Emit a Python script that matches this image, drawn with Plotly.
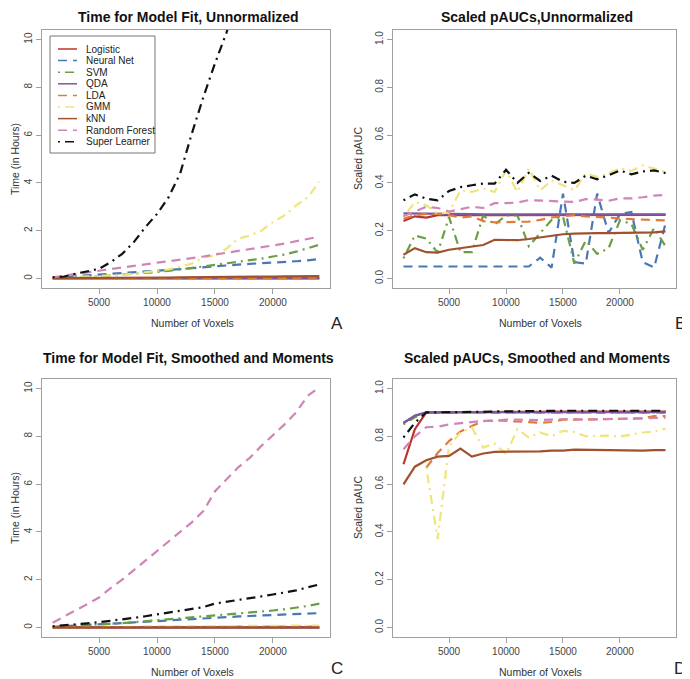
import plotly.graph_objects as go
from plotly.subplots import make_subplots

# the page puts the plot 8px in from the top-left corner, so the figure is
# sized to the window minus that and all pixel positions below are window pixels
OFF = 8
W, H = 690 - OFF, 679 - OFF

# data
voxels = [1000, 2000, 3000, 4000, 5000, 6000, 7000, 8000, 9000, 10000, 11000, 12000,
          13000, 14000, 15000, 16000, 17000, 18000, 19000, 20000, 21000, 22000, 23000, 24000]

methods = ["Logistic", "Neural Net", "SVM", "QDA", "LDA", "GMM", "kNN", "Random Forest", "Super Learner"]
colors = ["#B8352E", "#4A78B5", "#6A9F45", "#7E57A0", "#E07B39", "#EFE57A", "#A0522D", "#CF86B6", "#111111"]
dashes = ["solid", "9px,6px", "2px,5px,9px,5px", "solid", "9px,6px", "2px,5px,9px,5px", "solid", "9px,6px", "2px,5px,9px,5px"]

# panel A: time, unnormalized
time_unnorm = {
    "Logistic": [0.00, 0.00, 0.00, 0.00, 0.00, 0.00, 0.00, 0.00, 0.00, 0.00, 0.00, 0.00,
                 0.00, 0.00, 0.00, 0.00, 0.00, 0.00, 0.00, 0.00, 0.00, 0.00, 0.00, 0.00],
    "Neural Net": [0.03, 0.06, 0.10, 0.14, 0.17, 0.20, 0.23, 0.26, 0.29, 0.33, 0.36, 0.39,
                   0.43, 0.47, 0.53, 0.55, 0.58, 0.61, 0.63, 0.66, 0.69, 0.72, 0.76, 0.81],
    "SVM": [0.02, 0.03, 0.05, 0.07, 0.10, 0.13, 0.16, 0.19, 0.22, 0.27, 0.32, 0.37,
            0.43, 0.50, 0.57, 0.63, 0.70, 0.76, 0.83, 0.92, 1.00, 1.12, 1.28, 1.41],
    "QDA": [0.01, 0.01, 0.01, 0.01, 0.01, 0.01, 0.01, 0.01, 0.01, 0.01, 0.01, 0.01,
            0.01, 0.01, 0.01, 0.01, 0.01, 0.01, 0.01, 0.01, 0.01, 0.01, 0.01, 0.01],
    "LDA": [0.01, 0.01, 0.01, 0.01, 0.02, 0.02, 0.02, 0.02, 0.02, 0.02, 0.02, 0.02,
            0.02, 0.02, 0.02, 0.02, 0.03, 0.03, 0.03, 0.03, 0.03, 0.03, 0.03, 0.03],
    "GMM": [0.02, 0.04, 0.06, 0.08, 0.10, 0.12, 0.15, 0.20, 0.25, 0.30, 0.38, 0.50,
            0.62, 0.88, 0.96, 1.25, 1.66, 1.80, 2.00, 2.36, 2.64, 3.06, 3.40, 4.04],
    "kNN": [0.01, 0.01, 0.01, 0.02, 0.02, 0.02, 0.03, 0.03, 0.03, 0.04, 0.04, 0.05,
            0.05, 0.05, 0.06, 0.06, 0.07, 0.07, 0.08, 0.08, 0.09, 0.09, 0.10, 0.10],
    "Random Forest": [0.05, 0.12, 0.20, 0.27, 0.34, 0.40, 0.47, 0.53, 0.60, 0.66, 0.72, 0.78,
                      0.85, 0.92, 1.00, 1.07, 1.14, 1.22, 1.30, 1.38, 1.46, 1.55, 1.65, 1.75],
    "Super Learner": [0.05, 0.08, 0.20, 0.30, 0.40, 0.68, 1.03, 1.52, 2.15, 2.70, 3.40, 4.40,
                      6.06, 7.60, 9.00, 10.30, 11.80, 13.50, 15.30, 17.40, 19.60, 22.00, 24.70, 27.50],
}

# panel B: scaled pAUC, unnormalized
pauc_unnorm = {
    "Logistic": [0.240, 0.260, 0.255, 0.265, 0.265, 0.265, 0.265, 0.265, 0.266, 0.266, 0.266, 0.266,
                 0.266, 0.266, 0.266, 0.266, 0.266, 0.266, 0.266, 0.266, 0.266, 0.266, 0.266, 0.266],
    "Neural Net": [0.050, 0.050, 0.050, 0.050, 0.050, 0.050, 0.050, 0.052, 0.050, 0.050, 0.050, 0.050,
                   0.087, 0.045, 0.355, 0.068, 0.062, 0.355, 0.190, 0.270, 0.278, 0.068, 0.046, 0.230],
    "SVM": [0.084, 0.180, 0.167, 0.108, 0.257, 0.110, 0.110, 0.264, 0.225, 0.264, 0.264, 0.135,
            0.190, 0.245, 0.260, 0.062, 0.159, 0.103, 0.126, 0.243, 0.229, 0.120, 0.211, 0.135],
    "QDA": [0.272, 0.272, 0.271, 0.270, 0.270, 0.269, 0.269, 0.268, 0.268, 0.268, 0.268, 0.268,
            0.268, 0.268, 0.268, 0.268, 0.268, 0.268, 0.268, 0.268, 0.268, 0.268, 0.268, 0.268],
    "LDA": [0.250, 0.265, 0.270, 0.270, 0.265, 0.255, 0.260, 0.240, 0.235, 0.235, 0.235, 0.238,
            0.245, 0.255, 0.260, 0.265, 0.260, 0.258, 0.255, 0.250, 0.248, 0.245, 0.242, 0.243],
    "GMM": [0.257, 0.320, 0.306, 0.272, 0.275, 0.369, 0.362, 0.376, 0.362, 0.452, 0.362, 0.460,
            0.369, 0.410, 0.390, 0.369, 0.440, 0.425, 0.440, 0.462, 0.450, 0.473, 0.460, 0.445],
    "kNN": [0.099, 0.127, 0.110, 0.108, 0.120, 0.127, 0.132, 0.140, 0.162, 0.160, 0.160, 0.165,
            0.172, 0.180, 0.185, 0.188, 0.190, 0.190, 0.190, 0.190, 0.192, 0.190, 0.193, 0.197],
    "Random Forest": [0.260, 0.280, 0.300, 0.295, 0.280, 0.290, 0.300, 0.295, 0.315, 0.315, 0.318, 0.328,
                      0.325, 0.325, 0.322, 0.320, 0.332, 0.330, 0.325, 0.335, 0.335, 0.340, 0.347, 0.350],
    "Super Learner": [0.327, 0.352, 0.334, 0.327, 0.366, 0.382, 0.390, 0.397, 0.397, 0.455, 0.400, 0.442,
                      0.408, 0.430, 0.405, 0.400, 0.430, 0.415, 0.432, 0.452, 0.436, 0.448, 0.452, 0.441],
}

# panel C: time, smoothed and moments
time_smooth = {
    "Logistic": [0.00, 0.00, 0.00, 0.00, 0.00, 0.00, 0.00, 0.00, 0.00, 0.00, 0.00, 0.00,
                 0.00, 0.00, 0.00, 0.00, 0.00, 0.00, 0.00, 0.00, 0.00, 0.00, 0.00, 0.00],
    "Neural Net": [0.03, 0.05, 0.08, 0.10, 0.12, 0.15, 0.18, 0.21, 0.24, 0.27, 0.30, 0.33,
                   0.36, 0.39, 0.42, 0.44, 0.46, 0.48, 0.50, 0.52, 0.54, 0.56, 0.58, 0.60],
    "SVM": [0.02, 0.04, 0.06, 0.09, 0.12, 0.15, 0.18, 0.22, 0.26, 0.30, 0.33, 0.37,
            0.41, 0.45, 0.49, 0.53, 0.57, 0.61, 0.66, 0.71, 0.76, 0.82, 0.90, 1.00],
    "QDA": [0.00, 0.00, 0.00, 0.00, 0.00, 0.00, 0.00, 0.00, 0.00, 0.00, 0.00, 0.00,
            0.00, 0.00, 0.00, 0.00, 0.00, 0.00, 0.00, 0.00, 0.00, 0.00, 0.00, 0.00],
    "LDA": [0.01, 0.01, 0.01, 0.01, 0.01, 0.02, 0.02, 0.02, 0.02, 0.02, 0.02, 0.02,
            0.02, 0.03, 0.03, 0.03, 0.03, 0.03, 0.03, 0.04, 0.04, 0.04, 0.04, 0.04],
    "GMM": [0.01, 0.01, 0.02, 0.02, 0.02, 0.03, 0.03, 0.03, 0.03, 0.04, 0.04, 0.04,
            0.04, 0.05, 0.05, 0.05, 0.05, 0.06, 0.06, 0.06, 0.07, 0.07, 0.08, 0.08],
    "kNN": [0.00, 0.00, 0.00, 0.00, 0.00, 0.00, 0.00, 0.00, 0.00, 0.00, 0.00, 0.00,
            0.00, 0.00, 0.00, 0.00, 0.00, 0.00, 0.00, 0.00, 0.00, 0.00, 0.00, 0.00],
    "Random Forest": [0.20, 0.45, 0.72, 0.98, 1.25, 1.65, 2.00, 2.40, 2.80, 3.20, 3.60, 4.00,
                      4.40, 4.87, 5.70, 6.20, 6.70, 7.10, 7.60, 8.05, 8.50, 9.00, 9.70, 10.05],
    "Super Learner": [0.05, 0.08, 0.12, 0.17, 0.22, 0.27, 0.33, 0.40, 0.47, 0.55, 0.62, 0.70,
                      0.77, 0.85, 1.00, 1.07, 1.13, 1.20, 1.30, 1.38, 1.45, 1.55, 1.68, 1.80],
}

# panel D: scaled pAUC, smoothed and moments
pauc_smooth = {
    "Logistic": [0.683, 0.830, 0.900, 0.900, 0.900, 0.901, 0.901, 0.902, 0.902, 0.903, 0.903, 0.903,
                 0.903, 0.904, 0.904, 0.904, 0.904, 0.904, 0.904, 0.904, 0.904, 0.904, 0.904, 0.904],
    "Neural Net": [0.857, 0.885, 0.900, 0.900, 0.900, 0.900, 0.900, 0.900, 0.900, 0.900, 0.900, 0.900,
                   0.900, 0.900, 0.900, 0.900, 0.900, 0.900, 0.900, 0.900, 0.900, 0.900, 0.900, 0.900],
    "SVM": [0.850, 0.880, 0.900, 0.900, 0.900, 0.900, 0.900, 0.900, 0.900, 0.900, 0.900, 0.900,
            0.900, 0.900, 0.900, 0.900, 0.900, 0.900, 0.900, 0.900, 0.900, 0.900, 0.900, 0.900],
    "QDA": [0.855, 0.887, 0.900, 0.901, 0.901, 0.901, 0.901, 0.901, 0.901, 0.901, 0.901, 0.901,
            0.901, 0.901, 0.901, 0.901, 0.901, 0.901, 0.901, 0.901, 0.901, 0.901, 0.901, 0.901],
    "LDA": [None, None, 0.669, 0.730, 0.780, 0.820, 0.843, 0.864, 0.867, 0.865, 0.860, 0.858,
            0.857, 0.860, 0.870, 0.870, 0.870, 0.872, 0.872, 0.873, 0.874, 0.875, 0.885, 0.885],
    "GMM": [None, None, 0.670, 0.370, 0.760, 0.816, 0.837, 0.753, 0.770, 0.725, 0.830, 0.795,
            0.816, 0.800, 0.823, 0.818, 0.800, 0.803, 0.803, 0.799, 0.807, 0.816, 0.820, 0.832],
    "kNN": [0.599, 0.673, 0.700, 0.715, 0.718, 0.749, 0.715, 0.728, 0.735, 0.735, 0.738, 0.738,
            0.737, 0.740, 0.740, 0.744, 0.743, 0.742, 0.743, 0.742, 0.740, 0.740, 0.742, 0.742],
    "Random Forest": [0.746, 0.800, 0.838, 0.840, 0.850, 0.855, 0.857, 0.865, 0.865, 0.870, 0.870, 0.868,
                      0.868, 0.870, 0.872, 0.872, 0.870, 0.872, 0.872, 0.875, 0.875, 0.875, 0.877, 0.878],
    "Super Learner": [0.795, 0.857, 0.900, 0.900, 0.900, 0.902, 0.903, 0.903, 0.904, 0.905, 0.905, 0.906,
                      0.906, 0.906, 0.907, 0.907, 0.907, 0.907, 0.907, 0.907, 0.907, 0.907, 0.907, 0.907],
}

panels = [
    (time_unnorm, 1, 1, "Time for Model Fit, Unnormalized", "Time (in Hours)", "A"),
    (pauc_unnorm, 1, 2, "Scaled pAUCs,Unnormalized", "Scaled pAUC", "B"),
    (time_smooth, 2, 1, "Time for Model Fit, Smoothed and Moments", "Time (in Hours)", "C"),
    (pauc_smooth, 2, 2, "Scaled pAUCs, Smoothed and Moments", "Scaled pAUC", "D"),
]

# frame boxes in window pixels: left, right, top, bottom
cols_px = {1: (42, 330), 2: (393, 676)}
rows_px = {1: (30, 288), 2: (379, 637)}
ytitle_x = {1: 15, 2: 358}
letter_x = {1: 337, 2: 680}
letter_y = {1: 323, 2: 668}

FONT = "Liberation Sans, Arial, Helvetica, sans-serif"
GRAY = "#a0a0a0"


def px(x, y):
    return (x - OFF) / W, 1 - (y - OFF) / H


fig = make_subplots(rows=2, cols=2)

for data, r, c, title, ytitle, letter in panels:
    for name, col, dash in zip(methods, colors, dashes):
        fig.add_trace(go.Scatter(
            x=voxels, y=data[name], mode="lines", name=name,
            line=dict(color=col, width=2.2, dash=dash),
            showlegend=False, connectgaps=False,
        ), row=r, col=c)

annotations = []
for data, r, c, title, ytitle, letter in panels:
    l, rt = cols_px[c]
    t, b = rows_px[r]
    is_time = "Time" in ytitle
    dl, dt = px(l, t)
    dr, db = px(rt, b)
    fig.update_xaxes(
        domain=[dl, dr], range=[80, 24920],
        tickvals=[5000, 10000, 15000, 20000], tickformat="d",
        showline=True, mirror=True, linecolor=GRAY, linewidth=1.3,
        ticks="outside", ticklen=5, tickcolor=GRAY, showgrid=False, zeroline=False,
        tickfont=dict(family=FONT, size=10, color="#444"),
        row=r, col=c)
    fig.update_yaxes(
        domain=[db, dt],
        range=[-0.4, 10.4] if is_time else [-0.04, 1.04],
        tickvals=[0, 2, 4, 6, 8, 10] if is_time else [0, 0.2, 0.4, 0.6, 0.8, 1.0],
        tickformat="d" if is_time else ".1f",
        tickangle=-90,
        showline=True, mirror=True, linecolor=GRAY, linewidth=1.3,
        ticks="outside", ticklen=5, tickcolor=GRAY, showgrid=False, zeroline=False,
        tickfont=dict(family=FONT, size=10, color="#444"),
        row=r, col=c)

    cx = (l + rt) / 2
    tx, _ = px(cx + 2, 0)
    if r == 1:
        # top row titles sit right at the top of the page
        annotations.append(dict(text="<b>%s</b>" % title, x=tx, y=1, xref="paper", yref="paper",
                                showarrow=False, xanchor="center", yanchor="top", borderpad=0,
                                font=dict(family=FONT, size=14, color="#111")))
    else:
        _, ty = px(0, 358)
        annotations.append(dict(text="<b>%s</b>" % title, x=tx, y=ty, xref="paper", yref="paper",
                                showarrow=False, xanchor="center", yanchor="middle",
                                font=dict(family=FONT, size=14, color="#111")))
    ax, ay = px(cx + 6, b + 35)
    annotations.append(dict(text="Number of Voxels", x=ax, y=ay, xref="paper", yref="paper",
                            showarrow=False, xanchor="center", yanchor="middle",
                            font=dict(family=FONT, size=10.5, color="#333")))
    ax, ay = px(ytitle_x[c], (t + b) / 2)
    annotations.append(dict(text=ytitle, x=ax, y=ay, xref="paper", yref="paper", textangle=-90,
                            showarrow=False, xanchor="center", yanchor="middle",
                            font=dict(family=FONT, size=10.5, color="#333")))
    ax, ay = px(letter_x[c], letter_y[r])
    annotations.append(dict(text=letter, x=ax, y=ay, xref="paper", yref="paper",
                            showarrow=False, xanchor="center", yanchor="middle",
                            font=dict(family=FONT, size=17, color="#222")))

# legend box in panel A (drawn by hand to keep R's tight spacing)
shapes = []
x0, y0 = px(50, 36)
x1, y1 = px(155, 153)
shapes.append(dict(type="rect", xref="paper", yref="paper", x0=x0, y0=y0, x1=x1, y1=y1,
                   line=dict(color="#777", width=1), fillcolor="rgba(255,255,255,0)"))
for i, (name, col, dash) in enumerate(zip(methods, colors, dashes)):
    yy = 49 + i * 11.6
    sx0, sy = px(58, yy)
    sx1, _ = px(77, yy)
    shapes.append(dict(type="line", xref="paper", yref="paper", x0=sx0, y0=sy, x1=sx1, y1=sy,
                       line=dict(color=col, width=1.5, dash=dash)))
    tx, ty = px(84, yy)
    annotations.append(dict(text=name, x=tx, y=ty, xref="paper", yref="paper",
                            showarrow=False, xanchor="left", yanchor="middle",
                            font=dict(family=FONT, size=10, color="#222")))

fig.update_layout(
    width=W, height=H,
    margin=dict(l=0, r=0, t=0, b=0),
    paper_bgcolor="white", plot_bgcolor="white",
    showlegend=False,
    annotations=annotations,
    shapes=shapes,
)

fig.write_html("out.html")
